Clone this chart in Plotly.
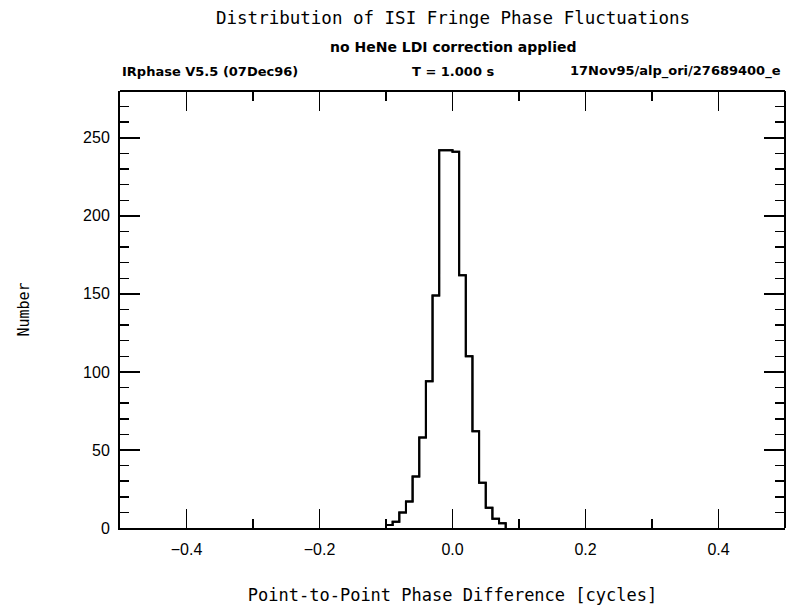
import plotly.graph_objects as go

# Data
bin_edges = [-0.10, -0.09, -0.08, -0.07, -0.06, -0.05, -0.04, -0.03, -0.02, -0.01,
             0.00, 0.01, 0.02, 0.03, 0.04, 0.05, 0.06, 0.07, 0.08]
counts = [2, 4, 10, 17, 33, 58, 94, 149, 242, 242, 241, 162, 110, 62, 29, 13, 6, 3]

x_tickvals = [-0.4, -0.2, 0.0, 0.2, 0.4]
x_ticktext = ["\u22120.4", "\u22120.2", "0.0", "0.2", "0.4"]
x_minorvals = [-0.3, -0.1, 0.1, 0.3]
y_tickvals = [0, 50, 100, 150, 200, 250]
y_minorvals = [v for v in range(10, 280, 10) if v % 50 != 0]

title_text = "Distribution of ISI Fringe Phase Fluctuations"
subtitle_text = "no HeNe LDI correction applied"
info_left = "IRphase V5.5 (07Dec96)"
info_mid = "T = 1.000 s"
info_right = "17Nov95/alp_ori/27689400_e"
x_title = "Point-to-Point Phase Difference [cycles]"
y_title = "Number"

X_RANGE = [-0.5, 0.5]
Y_RANGE = [0, 280]

# step outline of the histogram
xs = [bin_edges[0]] + bin_edges[:-1] + [bin_edges[-1]]
ys = [0] + counts + [0]

fig = go.Figure()
fig.add_trace(go.Scatter(x=xs, y=ys, mode="lines", line=dict(color="black", width=2, shape="hv"),
                         hoverinfo="skip", showlegend=False))
# same outline on the overlay axes (used for the top and right tick marks)
fig.add_trace(go.Scatter(x=xs, y=ys, mode="lines", xaxis="x2", yaxis="y2",
                         line=dict(color="black", width=2, shape="hv"),
                         hoverinfo="skip", showlegend=False))

mono = "DejaVu Sans Mono"
sans = "DejaVu Sans"
tick_font = "Liberation Sans"

fig.update_layout(
    width=788, height=616,
    margin=dict(l=120, r=3, t=91, b=88),
    paper_bgcolor="white", plot_bgcolor="white",
    showlegend=False,
)

line_common = dict(showgrid=False, zeroline=False, showline=True, linecolor="black", linewidth=2,
                   ticks="inside", tickcolor="black", tickwidth=1.5)

fig.update_layout(
    xaxis=dict(
        range=X_RANGE, tickvals=x_tickvals, ticktext=x_ticktext, ticklen=19,
        minor=dict(ticks="inside", tickvals=x_minorvals, ticklen=9, tickcolor="black", tickwidth=1.5),
        ticklabelstandoff=6,
        tickfont=dict(family=tick_font, size=16, color="black"),
        title=dict(text=x_title, font=dict(family=mono, size=17, color="black"), standoff=32),
        **line_common,
    ),
    yaxis=dict(
        range=Y_RANGE, tickvals=y_tickvals, ticklen=20,
        minor=dict(ticks="inside", tickvals=y_minorvals, ticklen=9, tickcolor="black", tickwidth=1.5),
        ticklabelstandoff=5,
        tickfont=dict(family=tick_font, size=16, color="black"),
        title=dict(text=y_title, font=dict(family=mono, size=15, color="black"), standoff=50),
        **line_common,
    ),
    xaxis2=dict(
        overlaying="x", side="top", anchor="free", position=1, range=X_RANGE,
        tickvals=x_tickvals, ticklen=19, showticklabels=False,
        minor=dict(ticks="inside", tickvals=x_minorvals, ticklen=9, tickcolor="black", tickwidth=1.5),
        **line_common,
    ),
    yaxis2=dict(
        overlaying="y", side="right", anchor="free", position=1, range=Y_RANGE,
        tickvals=y_tickvals, ticklen=20, showticklabels=False,
        minor=dict(ticks="inside", tickvals=y_minorvals, ticklen=9, tickcolor="black", tickwidth=1.5),
        **line_common,
    ),
)

fig.add_annotation(text=title_text, xref="paper", yref="paper", x=0.5, y=1, yshift=73,
                   xanchor="center", yanchor="middle", showarrow=False,
                   font=dict(family=mono, size=17.5, color="black"))
fig.add_annotation(text=subtitle_text, xref="paper", yref="paper", x=0.5, y=1, yshift=44,
                   xanchor="center", yanchor="middle", showarrow=False,
                   font=dict(family=sans, size=14, color="black", weight="bold"))
fig.add_annotation(text=info_left, xref="paper", yref="paper", x=0, y=1, yshift=20,
                   xanchor="left", yanchor="middle", showarrow=False,
                   font=dict(family=sans, size=13, color="black", weight="bold"))
fig.add_annotation(text=info_mid, xref="paper", yref="paper", x=0.5, y=1, yshift=20,
                   xanchor="center", yanchor="middle", showarrow=False,
                   font=dict(family=sans, size=13, color="black", weight="bold"))
fig.add_annotation(text=info_right, xref="paper", yref="paper", x=1, y=1, yshift=20, xshift=-2,
                   xanchor="right", yanchor="middle", showarrow=False,
                   font=dict(family=sans, size=13, color="black", weight="bold"))

fig.write_html(
    "out.html",
    config={"displayModeBar": False, "staticPlot": True},
    post_script="document.body.style.margin='0';document.body.style.padding='0';"
                "document.body.style.overflow='hidden';",
)
